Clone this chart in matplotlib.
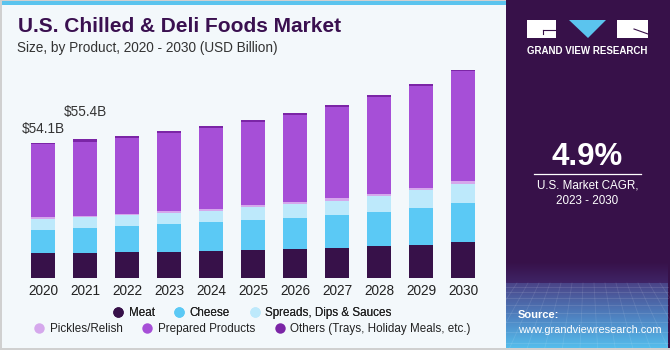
import matplotlib
matplotlib.use("Agg")
import matplotlib.pyplot as plt
import numpy as np
from matplotlib.patches import Rectangle, Polygon
from matplotlib.lines import Line2D

years = ["2020", "2021", "2022", "2023", "2024", "2025", "2026", "2027", "2028", "2029", "2030"]
meat = [10.1, 10.0, 10.35, 10.6, 11.0, 11.2, 11.55, 12.1, 12.7, 13.4, 14.3]
cheese = [9.3, 10.2, 10.5, 10.9, 11.3, 11.9, 12.5, 13.1, 13.9, 14.7, 15.8]
spreads = [4.4, 4.25, 4.5, 4.65, 4.65, 5.2, 5.45, 5.7, 6.2, 6.9, 7.4]
pickles = [0.55, 0.45, 0.4, 0.65, 0.8, 0.8, 0.9, 1.05, 0.8, 1.05, 1.2]
prepared = [29.2, 29.55, 30.3, 31.1, 32.0, 33.1, 34.8, 36.2, 38.6, 40.6, 43.8]
others = [0.55, 0.95, 0.7, 0.8, 0.8, 0.8, 0.55, 0.8, 0.7, 0.95, 0.5]
series_names = ["Meat", "Cheese", "Spreads, Dips & Sauces", "Pickles/Relish",
                "Prepared Products", "Others (Trays, Holiday Meals, etc.)"]
series_colors = ["#371149", "#5bc9f5", "#bde9fb", "#d5a8ec", "#a64fd7", "#7b25a6"]
labels = {0: "$54.1B", 1: "$55.4B"}

title = "U.S. Chilled & Deli Foods Market"
subtitle = "Size, by Product, 2020 - 2030 (USD Billion)"
cagr = "4.9%"
cagr_text = "U.S. Market CAGR,\n2023 - 2030"

W, H = 670, 350
plt.rcParams['font.family'] = ['Liberation Sans', 'DejaVu Sans']
fig = plt.figure(figsize=(W / 100, H / 100), dpi=100)
fig.patch.set_facecolor("#f3f8fb")

def fx(px):
    return px / W

def fy(py):
    return 1 - py / H

def hexrgb(h):
    h = h.lstrip("#")
    return np.array([int(h[i:i + 2], 16) for i in (0, 2, 4)]) / 255.0

# background decorations
bg = fig.add_axes([0, 0, 1, 1])
bg.axis("off")
bg.add_patch(Rectangle((0, 0), W, H, facecolor="#f3f8fb", edgecolor="none"))
bg.add_patch(Rectangle((0, 0.5), 506, 4.5, facecolor="#5bc4ee", edgecolor="none"))
bg.add_patch(Rectangle((0, 0), 2, H, facecolor="#d0d0d0", edgecolor="none"))
bg.add_patch(Rectangle((0, H - 2), W, 2, facecolor="#d0d0d0", edgecolor="none"))
bg.add_patch(Rectangle((0, 0), W, 1, facecolor="#d0d0d0", edgecolor="none"))
# right panel
bg.add_patch(Rectangle((506, 0), W - 506, H - 2, facecolor="#371149", edgecolor="none"))
# upper soft gradient
g1 = np.linspace(0, 1, 50)[:, None]
a0, a1 = hexrgb("#371149"), hexrgb("#3f2466")
img1 = a0[None, None, :] * (1 - g1[..., None]) + a1[None, None, :] * g1[..., None]
bg.imshow(img1, extent=(506, W - 2, 283, 262), aspect="auto", zorder=1)
# lower grid gradient
g2 = np.linspace(0, 1, 100)[:, None]
b0, b1, b2 = hexrgb("#4a4488"), hexrgb("#4f86c4"), hexrgb("#55bdec")
img2 = np.where(g2[..., None] < 0.55,
                b0 * (1 - g2[..., None] / 0.55) + b1 * (g2[..., None] / 0.55),
                b1 * (1 - (g2[..., None] - 0.55) / 0.45) + b2 * ((g2[..., None] - 0.55) / 0.45))
bg.imshow(img2, extent=(506, W - 2, H - 2, 283), aspect="auto", zorder=1)
# faint grid texture
for yy in [287, 292, 298, 305, 313, 322, 332, 343]:
    bg.plot([506, W - 2], [yy, yy], color="white", alpha=0.12, lw=0.6, zorder=1.5)
for xx in np.arange(506, W, 11):
    bg.plot([xx, 588 + (xx - 588) * 1.6], [283, H - 2], color="white", alpha=0.10, lw=0.6,
            zorder=1.5)
bg.set_xlim(0, W)
bg.set_ylim(H, 0)
# logo
bg.add_patch(Rectangle((527, 20), 29, 18, facecolor="white", edgecolor="none", zorder=2))
bg.add_patch(Rectangle((617, 20), 31, 18, facecolor="white", edgecolor="none", zorder=2))
bg.add_patch(Polygon([(569, 20), (606, 20), (588, 38)], closed=True, facecolor="#5bc4ee",
                     edgecolor="none", zorder=2))
bg.plot([543, 556], [30, 30], color="#371149", lw=0.8, zorder=3)
bg.plot([543, 543], [30, 34], color="#371149", lw=0.8, zorder=3)
bg.plot([634, 648], [29, 34], color="#371149", lw=0.8, zorder=3)
bg.text(587.5, 51, "GRAND VIEW RESEARCH", color="white", fontsize=7.0, fontweight="bold",
        ha="center", va="center", zorder=3)
bg.text(587.5, 157, cagr, color="white", fontsize=22.5, fontweight="bold",
        ha="center", va="center", zorder=3)
bg.plot([534, 641], [173.5, 173.5], color="white", lw=0.9, zorder=3)
bg.text(587.5, 193, cagr_text, color="white", fontsize=8.4, ha="center", va="center",
        linespacing=1.4, zorder=3)
bg.text(518, 315.5, "Source:", color="white", fontsize=8.0, fontweight="bold",
        ha="left", va="center", zorder=3)
bg.text(518, 330, "www.grandviewresearch.com", color="white", fontsize=7.9,
        ha="left", va="center", zorder=3)
# titles
bg.text(18, 26, title, color="#3a1050", fontsize=15, fontweight="bold", ha="left", va="center")
bg.text(17, 48, subtitle, color="#333333", fontsize=9.8, ha="left", va="center")

# chart axes
ax_left, ax_right = 0, 506
ax_top, ax_bottom = 60, 278.3
pxpu = 2.51
ax = fig.add_axes([fx(ax_left), fy(ax_bottom), fx(ax_right - ax_left), (ax_bottom - ax_top) / H])
ax.set_facecolor("none")
pxu = 42.0
ax.set_xlim(-43 / pxu, (ax_right - 43) / pxu)
ax.set_ylim(0, (ax_bottom - ax_top) / pxpu)
x = np.arange(len(years))
bottom = np.zeros(len(years))
for vals, col in zip([meat, cheese, spreads, pickles, prepared, others], series_colors):
    ax.bar(x, vals, width=0.58, bottom=bottom, color=col, edgecolor="none", zorder=2)
    bottom += np.array(vals)
offsets = {0: 14 / pxpu, 1: 27 / pxpu}
for i, s in labels.items():
    ax.text(x[i], bottom[i] + offsets[i], s, ha="center", va="center",
            fontsize=9.8, color="#333333")
for sp in ax.spines.values():
    sp.set_visible(False)
ax.set_yticks([])
ax.set_xticks(x)
ax.set_xticklabels(years, fontsize=9.8, color="#222222")
ax.tick_params(axis="x", length=0, pad=4)

handles = [Line2D([], [], marker="o", ls="none", markersize=7.5, markerfacecolor=c,
                  markeredgecolor="none") for c in series_colors]
leg1 = fig.legend(handles[:3], series_names[:3], ncol=3, loc="center",
                  bbox_to_anchor=(fx(252), fy(313)), frameon=False, fontsize=8.4,
                  handletextpad=0.4, columnspacing=1.6, handlelength=1.0,
                  labelcolor="#222222")
leg2 = fig.legend(handles[3:], series_names[3:], ncol=3, loc="center",
                  bbox_to_anchor=(fx(252), fy(329)), frameon=False, fontsize=8.4,
                  handletextpad=0.4, columnspacing=1.6, handlelength=1.0,
                  labelcolor="#222222")
fig.add_artist(leg1)

fig.savefig("out.png", dpi=100, facecolor=fig.get_facecolor())
